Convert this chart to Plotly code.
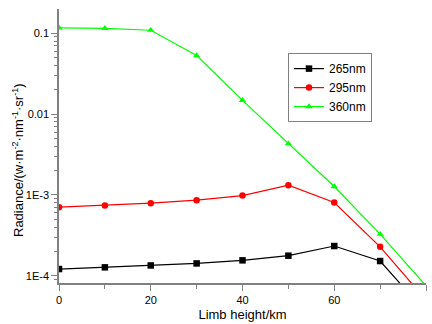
import plotly.graph_objects as go

heights = [0, 10, 20, 30, 40, 50, 60, 70, 80]
rad_265 = [1.21e-4, 1.27e-4, 1.34e-4, 1.42e-4, 1.55e-4, 1.77e-4, 2.33e-4, 1.52e-4, 3.5e-5]
rad_295 = [7.05e-4, 7.4e-4, 7.9e-4, 8.6e-4, 9.8e-4, 1.32e-3, 8.05e-4, 2.28e-4, 5.0e-5]
rad_360 = [0.1166, 0.115, 0.109, 0.053, 0.0148, 0.0043, 0.00127, 3.27e-4, 7.5e-5]

series = [
    ("265nm", rad_265, "#000000", "square"),
    ("295nm", rad_295, "#ff0000", "circle"),
    ("360nm", rad_360, "#00ff00", "triangle-up"),
]

y_tickvals = [1e-4, 1e-3, 1e-2, 1e-1]
y_ticktext = ["1E-4", "1E-3", "0.01", "0.1"]
minor_vals = [m * 10 ** e for e in (-5, -4, -3, -2, -1) for m in range(2, 10)]

fig = go.Figure()
for name, vals, color, sym in series:
    fig.add_trace(go.Scatter(
        x=heights, y=vals, name=name, mode="lines+markers",
        line=dict(color=color, width=1.2),
        marker=dict(symbol=sym, size=6.5, color=color),
        cliponaxis=True,
    ))

axis_col = "#808080"
fig.update_layout(
    width=432, height=324,
    margin=dict(l=59, r=6, t=9, b=41, autoexpand=False),
    paper_bgcolor="white", plot_bgcolor="white",
    font=dict(family="Liberation Sans, Arial, sans-serif", size=11, color="#000000"),
    showlegend=True,
    legend=dict(
        x=0.624, y=0.839, xanchor="left", yanchor="top",
        bordercolor=axis_col, borderwidth=1, bgcolor="white",
        font=dict(size=12), tracegroupgap=0, itemwidth=30,
    ),
    xaxis=dict(
        range=[0, 80], tickvals=[0, 20, 40, 60, 80], automargin=False,
        showline=True, linecolor=axis_col, linewidth=1.5,
        ticks="outside", ticklen=6, tickcolor=axis_col,
        minor=dict(tickvals=[10, 30, 50, 70], ticks="outside", ticklen=4, tickcolor=axis_col),
        showgrid=False, zeroline=False,
        title=dict(text="Limb height/km", font=dict(size=13), standoff=5),
    ),
    yaxis=dict(
        type="log", range=[-4.09, -0.70], automargin=False,
        tickvals=y_tickvals, ticktext=y_ticktext,
        showline=True, linecolor=axis_col, linewidth=1.5,
        ticks="outside", ticklen=6, tickcolor=axis_col,
        minor=dict(tickvals=minor_vals, ticks="outside", ticklen=3, tickcolor=axis_col),
        showgrid=False, zeroline=False,
    ),
    annotations=[dict(
        text="Radiance/(w·m<sup>-2</sup>·nm<sup>-1</sup>·sr<sup>-1</sup>)",
        xref="paper", yref="paper", x=(18 - 59) / 367, y=(283 - 160) / 274,
        xanchor="center", yanchor="middle", textangle=-90, showarrow=False,
        font=dict(size=13),
    )],
)

fig.write_html("out.html", post_script="document.body.style.margin='0px';",
               config={"displayModeBar": False})
